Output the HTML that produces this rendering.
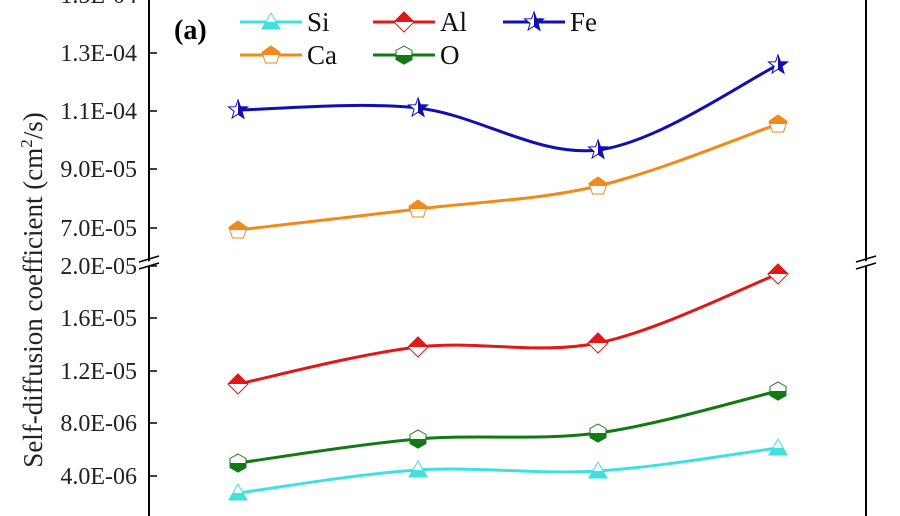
<!DOCTYPE html>
<html><head><meta charset="utf-8"><style>
html,body{margin:0;padding:0;background:#fff;}
svg{display:block;font-family:"Liberation Serif",serif;}
</style></head><body>
<svg id="s" width="900" height="516" viewBox="0 0 900 516" xmlns="http://www.w3.org/2000/svg">
<defs>
<clipPath id="top"><rect x="-20" y="-20" width="40" height="20"/></clipPath>
<clipPath id="bot"><rect x="-20" y="0" width="40" height="20"/></clipPath>
<clipPath id="rgt"><rect x="0" y="-20" width="20" height="40"/></clipPath>
</defs>
<line x1="149" y1="0" x2="149" y2="516" stroke="#000" stroke-width="2"/>
<line x1="866" y1="0" x2="866" y2="516" stroke="#000" stroke-width="2"/>
<g stroke="#fff" stroke-width="5"><line x1="140" y1="266" x2="160" y2="261"/><line x1="857" y1="266" x2="877" y2="261"/></g>
<g stroke="#000" stroke-width="1.5">
<line x1="139" y1="262" x2="159" y2="256"/><line x1="139" y1="269" x2="159" y2="263"/>
<line x1="856" y1="262" x2="876" y2="256"/><line x1="856" y1="269" x2="876" y2="263"/>
</g>
<g id="ticks" stroke="#000" stroke-width="1.5"></g>
<g id="tl" font-size="24" text-anchor="end" fill="#222"></g>
<text transform="translate(42,290) rotate(-90)" text-anchor="middle" font-size="27" fill="#222">Self-diffusion coefficient (cm<tspan dy="-10" font-size="17">2</tspan><tspan dy="10">/s)</tspan></text>
<text x="174" y="39" font-size="28" font-weight="bold">(a)</text>
<g id="series"></g>
<g id="leg" font-size="27"></g>
</svg>
<script>
const NS="http://www.w3.org/2000/svg";
function el(t,a,p){const e=document.createElementNS(NS,t);for(const k in a)e.setAttribute(k,a[k]);p.appendChild(e);return e;}
const ticks=document.getElementById('ticks'),tl=document.getElementById('tl');
[["1.5E-04",-5],["1.3E-04",53],["1.1E-04",111],["9.0E-05",169],["7.0E-05",228],["2.0E-05",266],["1.6E-05",318],["1.2E-05",371],["8.0E-06",423],["4.0E-06",476]].forEach(([l,y])=>{
 el('line',{x1:149,y1:y,x2:157,y2:y},ticks);
 const t=el('text',{x:137,y:y+8},tl);t.textContent=l;});
const shapes={
 tri:"M0,-9 L9,7 L-9,7Z",
 dia:"M0,-10 L10,0 L0,10 L-10,0Z",
 star:"M0,-10 L2.4,-3.3 L9.5,-3.1 L3.9,1.3 L5.9,8.1 L0,4.1 L-5.9,8.1 L-3.9,1.3 L-9.5,-3.1 L-2.4,-3.3Z",
 pent:"M0,-9 L9,-2.5 L5.5,8 L-5.5,8 L-9,-2.5Z",
 hex:"M0,-9 L8,-4.5 L8,4.5 L0,9 L-8,4.5 L-8,-4.5Z"};
function marker(g,x,y,sh,c,clip){
 const m=el('g',{transform:`translate(${x},${y})`},g);
 el('path',{d:shapes[sh],fill:'#fff',stroke:c,'stroke-width':1},m);
 el('path',{d:shapes[sh],fill:c,stroke:c,'stroke-width':1,'clip-path':`url(#${clip})`},m);}
function curve(p){let d=`M${p[0][0]},${p[0][1]}`;
 for(let i=0;i<p.length-1;i++){const p0=p[i-1]||p[i],p1=p[i],p2=p[i+1],p3=p[i+2]||p2;
 d+=` C${p1[0]+(p2[0]-p0[0])/6},${p1[1]+(p2[1]-p0[1])/6} ${p2[0]-(p3[0]-p1[0])/6},${p2[1]-(p3[1]-p1[1])/6} ${p2[0]},${p2[1]}`;}return d;}
const X=[238,418,598,778];
const S=[
 ["Fe","#1010b0","star","rgt",[110,108,150,65],534,22],
 ["Ca","#f08a1a","pent","top",[230,209,186,124],271,55],
 ["Al","#e01818","dia","top",[384,347,343,274],404,22],
 ["O","#127a12","hex","bot",[463,439,433,391],404,55],
 ["Si","#40e0e0","tri","bot",[493,470,471,448],271,22]];
const sg=document.getElementById('series'),lg=document.getElementById('leg');
S.forEach(([n,c,sh,cl,ys,lx,ly])=>{
 const pts=X.map((x,i)=>[x,ys[i]]);
 el('path',{d:curve(pts),fill:'none',stroke:c,'stroke-width':3},sg);
 pts.forEach(p=>marker(sg,p[0],p[1],sh,c,cl));
 el('line',{x1:lx-31,y1:ly,x2:lx+31,y2:ly,stroke:c,'stroke-width':3},lg);
 marker(lg,lx,ly,sh,c,cl);
 const t=el('text',{x:lx+36,y:ly+9,fill:'#111'},lg);t.textContent=n;});
</script>
</body></html>
